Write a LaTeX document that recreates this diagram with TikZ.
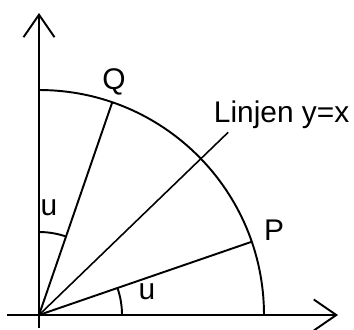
\documentclass[tikz,border=0pt]{standalone}
\usepackage{fontspec}
\setmainfont{Liberation Sans}
\usetikzlibrary{arrows.meta}
\tikzset{
  axis/.style={line width=1.1pt,-{Straight Barb[length=0.45cm,width=0.62cm,line width=1.1pt]}},
  lbl/.style={font=\fontsize{17}{20}\selectfont,inner sep=0pt}
}
\begin{document}
\begin{tikzpicture}[x=0.02cm,y=0.02cm,line width=1.1pt]
\useasboundingbox (-39,-14) rectangle (315,315);
\coordinate (O) at (0,0);
\coordinate (P) at (19:225);
\coordinate (Q) at (71:225);
\coordinate (D) at (44:263);
\draw[axis] (-32,0) -- (299,0);
\draw[axis] (0,-13) -- (0,302);
\draw (225,0) arc[start angle=0,end angle=90,radius=225];
\draw (O) -- (P);
\draw (O) -- (Q);
\draw[line width=0.9pt] (O) -- (D);
\draw (83,0) arc[start angle=0,end angle=19,radius=83];
\draw (0,83) arc[start angle=90,end angle=71,radius=83];
\node[lbl] (u1) at (108,23) {u};
\node[lbl] (u2) at (10,107) {u};
\node[lbl] (Ql) at (75,233) {Q};
\node[lbl] (Pl) at (235,85) {P};
\node[lbl,anchor=base west] (yx) at (174,193) {Linjen y=x};
\end{tikzpicture}
\end{document}
